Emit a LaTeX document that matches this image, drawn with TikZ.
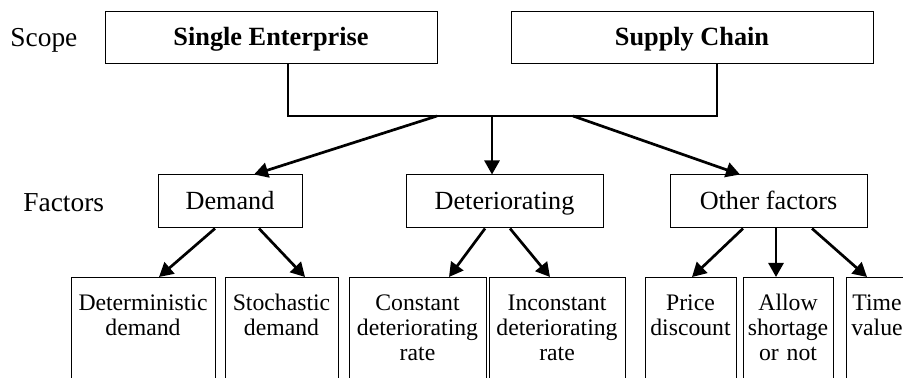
\documentclass[tikz,border=0pt]{standalone}
\usepackage{fontspec}
\setmainfont{Liberation Serif}
\usetikzlibrary{positioning,calc,arrows.meta}

\begin{document}
\begin{tikzpicture}[x=0.5pt,y=-0.5pt,
	box/.style={draw,line width=0.5pt,inner sep=0pt,align=center},
	topbox/.style={box,minimum height=26pt,text height=10pt,text depth=2pt,font=\fontsize{13.15}{15}\selectfont\bfseries},
	midbox/.style={box,minimum height=26.5pt,text height=10pt,text depth=2pt,font=\fontsize{13.1}{15}\selectfont},
	leaf/.style={box,anchor=north,text height=16.5pt,text depth=70pt,font=\fontsize{11.85}{12.5}\selectfont},
	link/.style={line width=0.85pt},
	arr/.style={line width=1.35pt,-{Triangle[length=7pt,width=7.5pt]}},
	side/.style={anchor=west,inner sep=0pt,font=\fontsize{13.7}{16}\selectfont}]

\clip (0,0) rectangle (903,378);

% scope level
\node[side] (scope) at (10,40) {Scope};
\node[topbox,minimum width=166pt] (single) at (271,38) {Single Enterprise};
\node[topbox,minimum width=181pt] (supply) at (692,38) {Supply Chain};

% factor level
\node[side] (factors) at (23,203) {Factors};
\node[midbox,minimum width=72pt] (dem) at (230,201.5) {Demand};
\node[midbox,minimum width=98.5pt] (det) at (504.5,201.5) {Deteriorating};
\node[midbox,minimum width=98.5pt] (oth) at (768.5,201.5) {Other factors};

% leaves
\foreach \n/\x/\w/\t in {detm/143/72/{Deterministic\\demand},stoc/281.5/56.5/{Stochastic\\demand},
	cons/417.5/68.5/{Constant\\deteriorating\\rate},inco/557/68/{Inconstant\\deteriorating\\rate},
	pric/690.5/45.5/{Price\\discount},allo/788/45/{Allow\\shortage\\or not},time/877/31/{Time\\value}}{
	\node[leaf,text width=\w pt] (\n) at (\x,277) {\t};
}

% joining bar
\coordinate (barL) at (288,116);
\coordinate (barR) at (717,116);
\draw[link] (single.south -| barL) -- (barL) -- (barR) -- (supply.south -| barR);
\foreach \c/\x in {j1/437,j2/492,j3/573}{
	\coordinate (\c) at (\x,116);
}
\draw[arr] (j1) -- ($(dem.north)+(24,0)$);
\draw[arr] (j2) -- ($(det.north)+(-12.5,0)$);
\draw[arr] (j3) -- ($(oth.north)+(-28.5,0)$);

\foreach \a/\da/\b/\db in {dem/-15/detm/16,dem/29/stoc/23.5,det/-19.5/cons/31.5,det/5.5/inco/-7,
	oth/-25.5/pric/1.5,oth/7.5/allo/-12,oth/43.5/time/-10}{
	\draw[arr] ($(\a.south)+(\da,0)$) -- ($(\b.north)+(\db,0)$);
}

\end{tikzpicture}
\end{document}
